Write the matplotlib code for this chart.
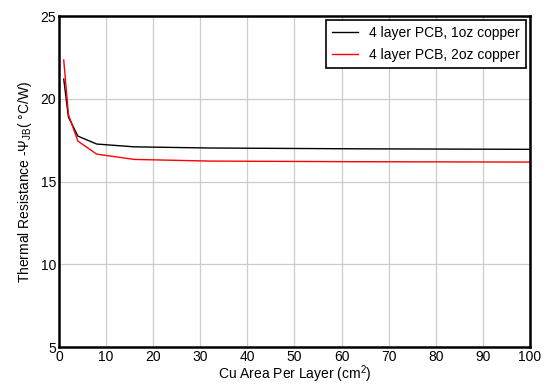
import matplotlib
matplotlib.use("Agg")
import matplotlib.pyplot as plt

plt.rcParams['font.family'] = ['Liberation Sans', 'DejaVu Sans']
plt.rcParams['mathtext.fontset'] = 'custom'
plt.rcParams['mathtext.rm'] = 'Liberation Sans'
plt.rcParams['mathtext.it'] = 'Liberation Sans:italic'

area = [1, 2, 4, 8, 16, 32, 64, 100]
psi_1oz = [21.2, 18.9, 17.75, 17.27, 17.1, 17.03, 16.98, 16.95]
psi_2oz = [22.35, 19.05, 17.45, 16.66, 16.34, 16.24, 16.2, 16.18]
labels = ["4 layer PCB, 1oz copper", "4 layer PCB, 2oz copper"]

fig = plt.figure(figsize=(5.44, 3.85), dpi=100)
ax = fig.add_axes([0.1085, 0.0987, 0.8655, 0.8593])
ax.plot(area, psi_1oz, color='black', lw=1.0, label=labels[0])
ax.plot(area, psi_2oz, color='#ff0000', lw=1.0, label=labels[1])
ax.set_xlim(0, 100)
ax.set_ylim(5, 25)
ax.set_xticks(range(0, 101, 10))
ax.set_yticks(range(5, 26, 5))
ax.grid(True, color='#cccccc', lw=0.9)
ax.set_axisbelow(True)
ax.tick_params(length=0, labelsize=10, pad=2)
for s in ax.spines.values():
    s.set_linewidth(1.8)
ax.set_xlabel(r'Cu Area Per Layer (cm$^{2}$)', fontsize=10, labelpad=0)
ax.set_ylabel(r'Thermal Resistance -$\Psi_{\mathrm{JB}}$( °C/W)', fontsize=10, labelpad=5)
leg = ax.legend(loc='upper right', fontsize=10, frameon=True, fancybox=False,
                edgecolor='black', framealpha=1, borderaxespad=0.25, handlelength=1.9,
                handletextpad=0.8, borderpad=0.45, labelspacing=0.6)
leg.get_frame().set_linewidth(1.2)
fig.savefig('out.png', dpi=100)
